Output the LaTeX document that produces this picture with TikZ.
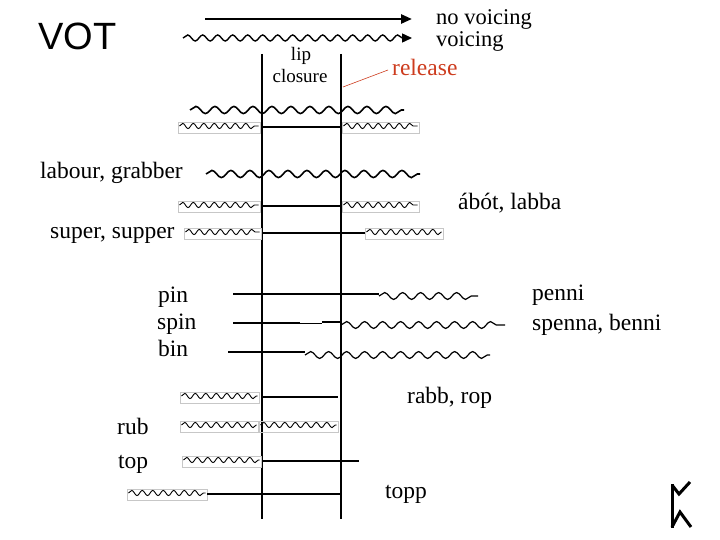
\documentclass[tikz,border=0pt]{standalone}
\usepackage{fontspec}
\setmainfont{Liberation Serif}
\newfontfamily\votfont{Liberation Sans}
\usetikzlibrary{decorations.pathmorphing,arrows.meta}
\definecolor{relred}{RGB}{205,60,30}
\newcommand{\wbox}[3]{%
  \draw[boxedge] (#1,#3-5) rectangle (#2,#3+6);
  \draw[thinwave] (#1+1.5,#3-1) -- (#2-1.5,#3-1);
}
\begin{document}
\begin{tikzpicture}[x=1pt,y=-1pt,
  txt/.style={anchor=base west,inner sep=0pt,font=\fontsize{23.5}{26}\selectfont},
  small/.style={anchor=base,inner sep=0pt,font=\fontsize{19}{21}\selectfont},
  heavywave/.style={line width=1.6pt,decorate,decoration={snake,segment length=19pt,amplitude=3.6pt}},
  medwave/.style={line width=1.2pt,decorate,decoration={snake,segment length=18pt,amplitude=3.4pt}},
  thinwave/.style={line width=0.9pt,decorate,decoration={snake,segment length=10.5pt,amplitude=2.6pt}},
  boxedge/.style={draw=black!22,line width=0.6pt},
  hl/.style={line width=1.8pt},
  thl/.style={line width=2.6pt},
  vline/.style={line width=2.2pt},
]
\useasboundingbox (0,0) rectangle (720,540);

% header
\node[anchor=base west,inner sep=0pt,font=\votfont\fontsize{38}{40}\selectfont] (vot) at (38,50) {VOT};
\coordinate (a1s) at (205,19); \coordinate (a1e) at (412,19);
\coordinate (a2s) at (183,38); \coordinate (a2e) at (412,38);
\draw[line width=2.5pt,-{Triangle[length=11pt,width=9pt]}] (a1s) -- (a1e);
\draw[line width=1.4pt,-{Triangle[length=10pt,width=9pt]},decorate,
  decoration={snake,segment length=15pt,amplitude=3pt,post length=9pt}] (a2s) -- (a2e);
\node[txt,font=\fontsize{22.5}{24}\selectfont] (nov) at (436,25) {no voicing};
\node[txt,font=\fontsize{22.5}{24}\selectfont] (voi) at (436,47) {voicing};
\node[small] (lip) at (301,61) {lip};
\node[small] (clo) at (300,83) {closure};
\node[txt,text=relred] (rel) at (392,76) {release};
\coordinate (relA) at (343,87); \coordinate (relB) at (388,70);
\draw[relred,line width=0.6pt] (relA) -- (relB);

% vertical lines
\coordinate (L1) at (262,54); \coordinate (L2) at (262,519);
\coordinate (R1) at (341,54); \coordinate (R2) at (341,519);
\draw[vline] (L1) -- (L2);
\draw[vline] (R1) -- (R2);

% rows
\draw[heavywave] (190,110) -- (404,110);
\wbox{178}{260}{127}
\draw[hl] (262,127) -- (341,127);
\wbox{342}{419}{127}

\node[txt] (lab) at (40,179) {labour, grabber};
\draw[heavywave] (206,174) -- (420,174);

\wbox{178}{260}{206}
\draw[hl] (262,206) -- (341,206);
\wbox{342}{419}{206}
\node[txt] (abot) at (458,210) {ábót, labba};

\node[txt] (sup) at (50,239) {super, supper};
\wbox{184}{261}{233}
\draw[hl] (262,233) -- (365,233);
\wbox{365}{443}{233}

% pin, spin, bin
\node[txt] (pin) at (158,302) {pin};
\node[txt] (spin) at (157,329) {spin};
\node[txt] (bin) at (158,356) {bin};
\node[txt] (penni) at (532,300) {penni};
\node[txt] (spenna) at (532,330) {spenna, benni};
\draw[hl] (233,294) -- (379,294);
\draw[medwave] (379,296) -- (478,296);
\draw[thl] (233,323) -- (300,323);
\draw[line width=1pt] (300,323) -- (322,323);
\draw[thl] (322,322) -- (341,322);
\draw[medwave] (341,325) -- (505,325);
\draw[thl] (228,352) -- (305,352);
\draw[medwave] (305,355) -- (490,355);

% lower rows
\node[txt] (rabb) at (407,403) {rabb, rop};
\wbox{180}{259}{397}
\draw[hl] (262,397) -- (338,397);
\node[txt] (rub) at (117,434) {rub};
\wbox{180}{258}{426}
\wbox{259}{338}{426}
\node[txt] (top) at (118,468) {top};
\wbox{182}{261}{461}
\draw[hl] (262,461) -- (359,461);
\wbox{127}{207}{494}
\draw[hl] (207,494) -- (342,494);
\node[txt] (topp) at (385,498) {topp};

% rune
\draw[line width=3pt] (672,484) -- (672,528);
\draw[line width=3pt,line join=miter] (672,485) -- (679,494) -- (690,482);
\draw[line width=3pt,line join=miter] (672,527) -- (680,512) -- (691,527);
\end{tikzpicture}
\end{document}
